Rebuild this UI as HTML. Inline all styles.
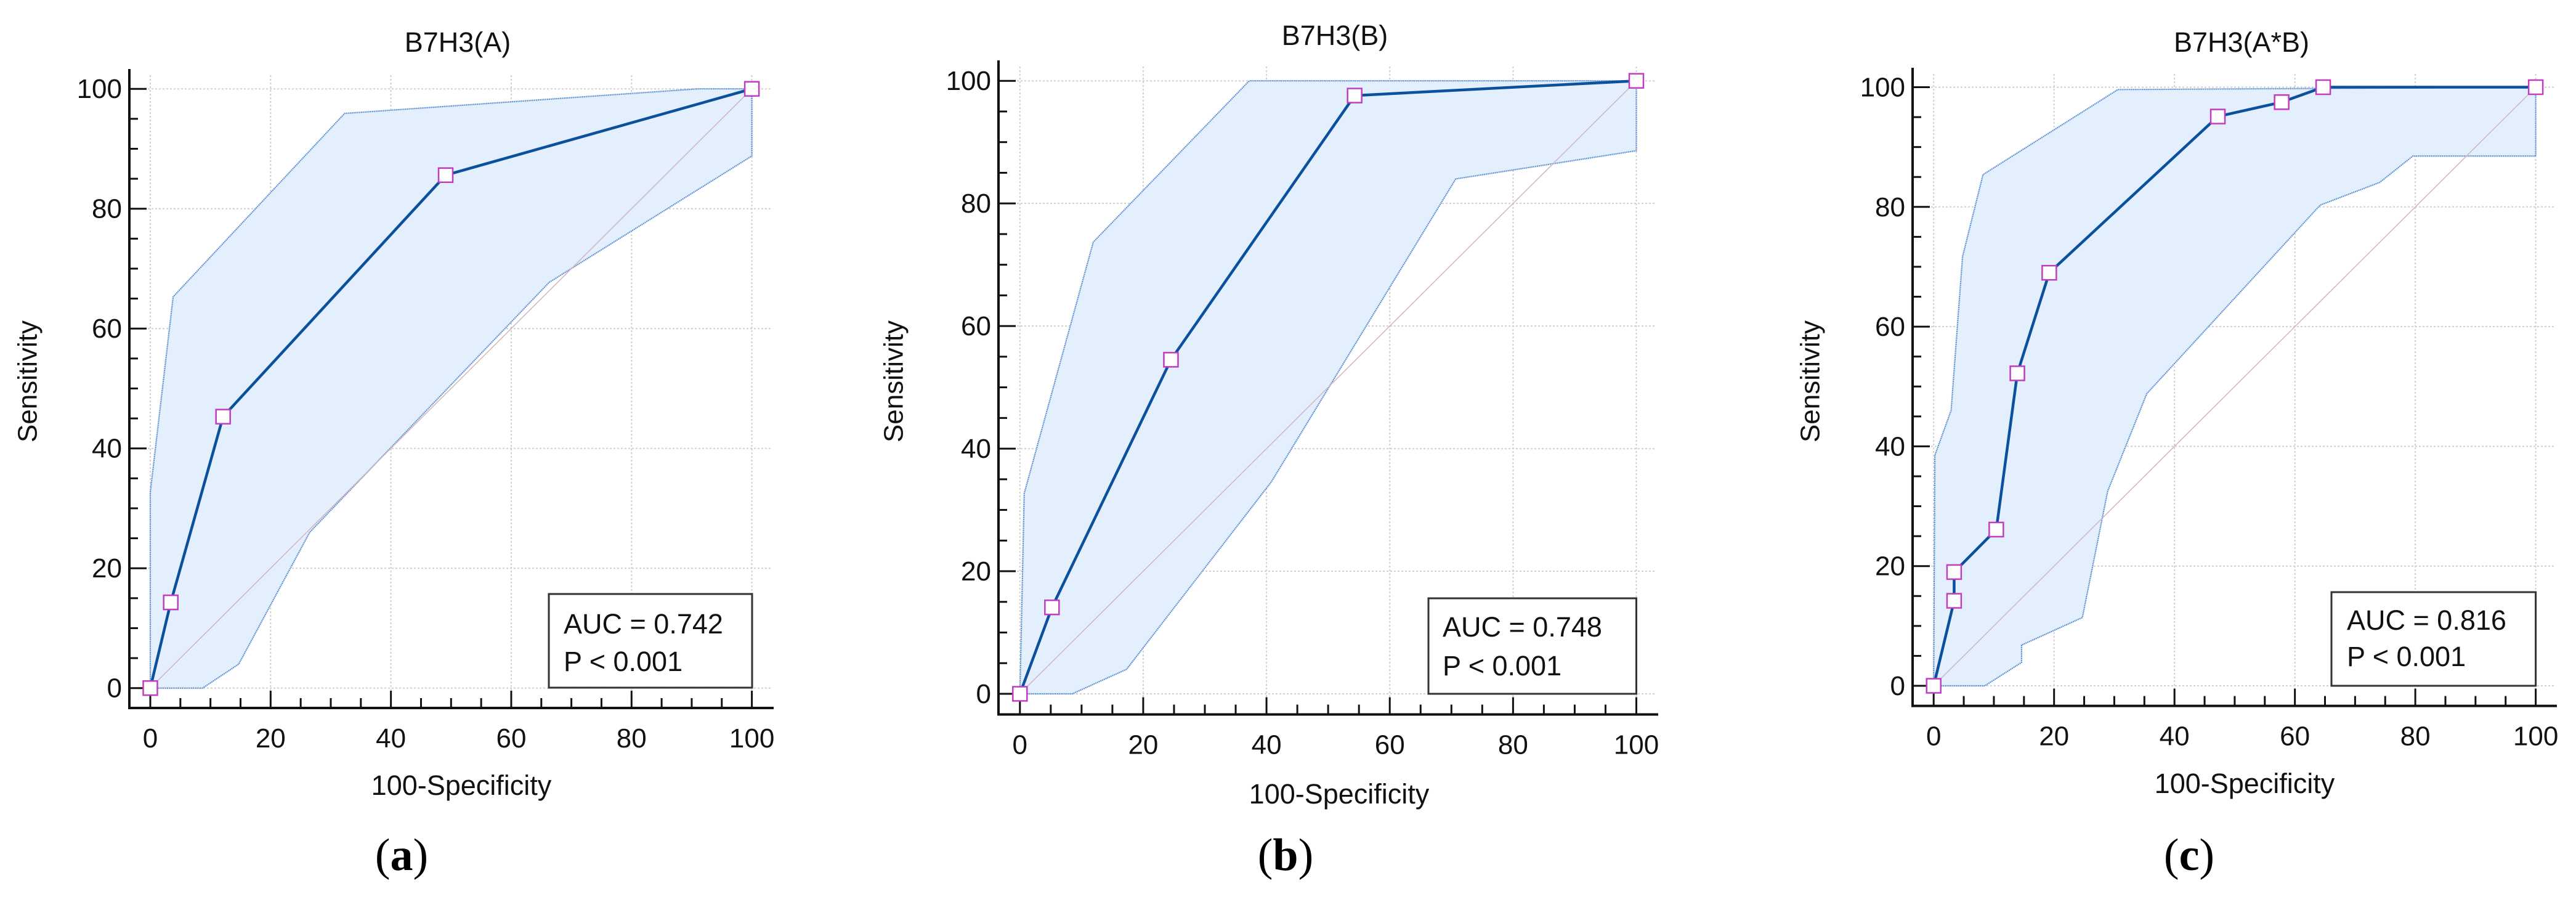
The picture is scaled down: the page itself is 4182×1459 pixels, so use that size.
<!DOCTYPE html>
<html><head><meta charset="utf-8"><style>
html,body{margin:0;padding:0;background:#fff;}
svg{display:block;font-family:"Liberation Sans",Arial,sans-serif;}
</style></head><body>
<svg id="fig" width="4182" height="1459" viewBox="0 0 4182 1459" xmlns="http://www.w3.org/2000/svg"></svg>
<script>
// Panel A data
const aRocX = [0, 3.4, 12.1, 49.1, 100];
const aRocY = [0, 14.3, 45.3, 85.6, 100];
const aUpX = [0, 0, 3.8, 32.3, 91, 100];
const aUpY = [0, 32.7, 65.3, 95.9, 100, 100];
const aLoX = [0, 8.7, 14.7, 26.5, 66.3, 100, 100];
const aLoY = [0, 0, 4, 26, 67.7, 88.8, 100];
// Panel B data
const bRocX = [0, 5.2, 24.5, 54.3, 100];
const bRocY = [0, 14.1, 54.5, 97.6, 100];
const bUpX = [0, 0.7, 11.9, 37.2, 100];
const bUpY = [0, 32.7, 73.7, 100, 100];
const bLoX = [0, 8.5, 17.3, 40.8, 70.7, 100, 100];
const bLoY = [0, 0, 4, 34.6, 84, 88.6, 100];
// Panel C data
const cRocX = [0, 3.4, 3.4, 10.4, 13.9, 19.2, 47.2, 57.8, 64.7, 100];
const cRocY = [0, 14.2, 19.0, 26.1, 52.2, 69.0, 95.1, 97.5, 100, 100];
const cUpX = [0, 0.2, 2.9, 4.8, 8.2, 30.6, 100];
const cUpY = [0, 38.5, 46, 71.7, 85.4, 99.6, 100];
const cLoX = [0, 8.5, 14.6, 14.6, 24.7, 28.9, 35.4, 64.2, 74.1, 79.6, 100, 100];
const cLoY = [0, 0, 3.9, 6.8, 11.4, 32.5, 48.8, 80.3, 84.1, 88.5, 88.5, 100];
const tickVals = [0, 20, 40, 60, 80, 100];
const titles = ["B7H3(A)", "B7H3(B)", "B7H3(A*B)"];
const aucText = ["AUC = 0.742", "AUC = 0.748", "AUC = 0.816"];
const pText = ["P < 0.001", "P < 0.001", "P < 0.001"];
const panelLetters = ["a", "b", "c"];

const NS = "http://www.w3.org/2000/svg";
const svg = document.getElementById("fig");
function mk(tag, attrs, parent) {
  const e = document.createElementNS(NS, tag);
  for (const k in attrs) e.setAttribute(k, attrs[k]);
  (parent || svg).appendChild(e);
  return e;
}

const layouts = [
  {x0:244,x1:1220.6,y0:1116.7,y1:144.2,axL:210,axB:1149,axR:1256,axT:112,tx:743,ty:84,ylx:45,yly:619,xlx:749,xly:1290,lx:652,ly:1412,box:[891,964,1221,1116],atx:915,ab1:1028,ab2:1089},
  {x0:1655.8,x1:2656.5,y0:1126,y1:131.2,axL:1621,axB:1159.5,axR:2692,axT:98,tx:2167,ty:73,ylx:1451,yly:619,xlx:2174,xly:1304,lx:2087,ly:1412,box:[2319,971,2656.5,1126],atx:2342,ab1:1033,ab2:1096},
  {x0:3139.2,x1:4116.6,y0:1113,y1:141.5,axL:3105,axB:1145.6,axR:4151,axT:110,tx:3639,ty:84,ylx:2939,yly:619,xlx:3644,xly:1287,lx:3554,ly:1412,box:[3785,961,4116.6,1113],atx:3810,ab1:1022,ab2:1081}
];
const datasets = [
  [aRocX,aRocY,aUpX,aUpY,aLoX,aLoY],
  [bRocX,bRocY,bUpX,bUpY,bLoX,bLoY],
  [cRocX,cRocY,cUpX,cUpY,cLoX,cLoY]
];

layouts.forEach((L, i) => {
  const [rx, ry, ux, uy, lx, ly] = datasets[i];
  const sx = v => L.x0 + (L.x1 - L.x0) * v / 100;
  const sy = v => L.y0 + (L.y1 - L.y0) * v / 100;
  const g = mk("g", {});
  
  

  tickVals.forEach(t => {
    const gv = mk("line", {x1:sx(t),x2:sx(t),y1:L.axT+10,y2:L.axB,stroke:"#d0d0d0","stroke-width":2,"stroke-dasharray":"3,3"}, g);
    
    
    const gh = mk("line", {x1:L.axL,x2:L.axR-3,y1:sy(t),y2:sy(t),stroke:"#d0d0d0","stroke-width":2,"stroke-dasharray":"3,3"}, g);
    
    
  });

  let pts = ux.map((v, k) => sx(v) + "," + sy(uy[k]));
  for (let k = lx.length - 1; k >= 0; k--) pts.push(sx(lx[k]) + "," + sy(ly[k]));
  const band = mk("polygon", {points: pts.join(" "), fill:"#e3effd", stroke:"none"}, g);
  
  
  const up = mk("polyline", {points: ux.map((v,k)=>sx(v)+","+sy(uy[k])).join(" "), fill:"none", stroke:"#5b8fd0","stroke-width":2.2,"stroke-dasharray":"2,1"}, g);
  
  
  const lo = mk("polyline", {points: lx.map((v,k)=>sx(v)+","+sy(ly[k])).join(" "), fill:"none", stroke:"#5b8fd0","stroke-width":2.2,"stroke-dasharray":"2,1"}, g);
  
  

  const dg = mk("line", {x1:sx(0),y1:sy(0),x2:sx(100),y2:sy(100),stroke:"#d4b4bc","stroke-width":1.5}, g);
  
  

  const ya = mk("line", {x1:L.axL,x2:L.axL,y1:L.axT,y2:L.axB+2,stroke:"#111","stroke-width":4}, g);
  
  
  const xa = mk("line", {x1:L.axL-2,x2:L.axR,y1:L.axB,y2:L.axB,stroke:"#111","stroke-width":4}, g);
  
  
  for (let t = 0; t <= 100; t += 5) {
    const major = t % 20 === 0;
    const len = major ? 28 : 16;
    mk("line", {x1:sx(t),x2:sx(t),y1:L.axB,y2:L.axB-len,stroke:"#111","stroke-width":3}, g);
    mk("line", {x1:L.axL,x2:L.axL+(major?len:14),y1:sy(t),y2:sy(t),stroke:"#111","stroke-width":3}, g);
  }
  tickVals.forEach(t => {
    const xt = mk("text", {x:sx(t), y:L.axB+64, "font-size":44, "text-anchor":"middle", fill:"#111"}, g);
    xt.textContent = t;
    
    
    const yt = mk("text", {x:L.axL-12, y:sy(t)+15, "font-size":44, "text-anchor":"end", fill:"#111"}, g);
    yt.textContent = t;
    
    
  });

  const rl = mk("polyline", {points: rx.map((v,k)=>sx(v)+","+sy(ry[k])).join(" "), fill:"none", stroke:"#0b509c","stroke-width":4.5,"stroke-linejoin":"round"}, g);
  
  
  rx.forEach((v, k) => {
    const m = mk("rect", {x:sx(v)-11.5, y:sy(ry[k])-11.5, width:23, height:23, fill:"#fff", stroke:"#c03cc0","stroke-width":2.5}, g);
    
    
  });

  const b = L.box;
  const bx = mk("rect", {x:b[0], y:b[1], width:b[2]-b[0], height:b[3]-b[1], fill:"#fff", stroke:"#333","stroke-width":3}, g);
  
  
  const t1 = mk("text", {x:L.atx, y:L.ab1, "font-size":45, fill:"#111"}, g);
  t1.textContent = aucText[i];
  
  
  const t2 = mk("text", {x:L.atx, y:L.ab2, "font-size":45, fill:"#111"}, g);
  t2.textContent = pText[i];
  
  

  const tt = mk("text", {x:L.tx, y:L.ty, "font-size":45, "text-anchor":"middle", fill:"#111"}, g);
  tt.textContent = titles[i];
  
  
  const yl = mk("text", {x:L.ylx, y:L.yly, "font-size":44, "text-anchor":"middle", fill:"#111", transform:"rotate(-90 "+L.ylx+" "+L.yly+")", "dominant-baseline":"central"}, g);
  yl.textContent = "Sensitivity";
  
  
  const xl = mk("text", {x:L.xlx, y:L.xly, "font-size":45, "text-anchor":"middle", fill:"#111"}, g);
  xl.textContent = "100-Specificity";
  
  
  const pl = mk("text", {x:L.lx, y:L.ly, "font-size":74, "text-anchor":"middle", fill:"#000", "font-family":"'Liberation Serif',serif"}, g);
  pl.innerHTML = '(<tspan font-weight="bold">' + panelLetters[i] + '</tspan>)';
  
  
});
</script>
</body></html>
